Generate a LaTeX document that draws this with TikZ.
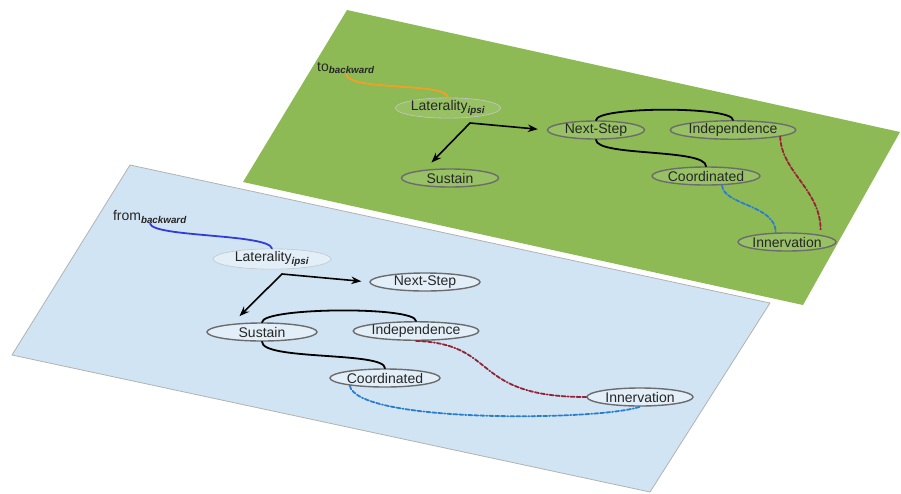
\documentclass[tikz,border=0pt]{standalone}
\usepackage{fontspec}
\setmainfont{Liberation Sans}
\usetikzlibrary{positioning,shapes.geometric,arrows.meta}
\definecolor{leafgreen}{RGB}{141,186,84}
\definecolor{paleblue}{RGB}{208,228,243}
\definecolor{linkred}{RGB}{150,35,55}
\definecolor{linkblue}{RGB}{45,125,205}
\definecolor{tracorange}{RGB}{240,160,40}
\definecolor{tracblue}{RGB}{50,60,220}
\tikzset{
  ovalstate/.style={ellipse, draw=gray!85!black, line width=1.4pt, inner sep=0pt,
    minimum height=18pt, text=black!85, font=\fontsize{14}{16}\selectfont},
  gstate/.style={ovalstate, fill=leafgreen!90!white, minimum width=97pt},
  bstate/.style={ovalstate, fill=paleblue!60!white, minimum width=110pt},
  faint/.style={draw=gray!45, line width=0.6pt},
  tag/.style={inner sep=0pt, text=black!85, font=\fontsize{14}{16}\selectfont},
  link/.style={line width=1.8pt, line cap=round},
  twoway/.style={line width=1.6pt, {Stealth[length=10pt,width=7.5pt]}-{Stealth[length=10pt,width=7.5pt]}},
  dashlink/.style={dash pattern=on 4pt off 2pt on 4pt off 2pt on 4pt off 2pt on 1pt off 2pt}
}
\begin{document}
\begin{tikzpicture}[x=1pt,y=-1pt]
\useasboundingbox (0,0) rectangle (901,493);
% the two planes
\fill[leafgreen] (347,10) -- (900,132) -- (803,305) -- (243,182) -- cycle;
\filldraw[fill=paleblue, draw=gray!60, line width=0.8pt] (130,165) -- (770,303) -- (650,492) -- (12,355) -- cycle;

% upper plane (green)
\node[tag] (gTo) at (346,68) {to\textsubscript{\textbf{\textit{backward}}}};
\node[gstate, faint] (gLat) at (448,108) {Laterality\textsubscript{\textbf{\textit{ipsi}}}};
\node[gstate] (gNext) at (596,130) {Next-Step};
\node[gstate] (gIndep) at (733,130) {Independence};
\node[gstate] (gSustain) at (450,178) {Sustain};
\node[gstate] (gCoord) at (706,176) {Coordinated};
\node[gstate] (gInnerv) at (787,242) {Innervation};
\coordinate (gFork) at (470,123);

\draw[link, tracorange] (gTo.south) .. controls +(3,18) and +(-2,-16) .. (gLat.north);
\draw[twoway, shorten <=10pt, shorten >=9pt] (gSustain.162) -- (gFork) -- (gNext.west);
\draw[link] (gNext.north) .. controls +(0,-14) and +(0,-14) .. (gIndep.north);
\draw[link] (gNext.south) .. controls +(0,17) and +(0,-18) .. (gCoord.north);
\draw[link, linkblue, dashlink] (gCoord.-30) .. controls +(1,20) and +(0,-28) .. (gInnerv.140);
\draw[link, linkred, dashlink, shorten >=5pt] (gIndep.-8) .. controls +(1,35) and +(0,-45) .. (gInnerv.12);

% lower plane (blue)
\node[tag] (bFrom) at (150,217) {from\textsubscript{\textbf{\textit{backward}}}};
\node[bstate, faint, minimum width=118pt] (bLat) at (272,259) {Laterality\textsubscript{\textbf{\textit{ipsi}}}};
\node[bstate] (bNext) at (425,282) {Next-Step};
\node[bstate] (bSustain) at (262,332) {Sustain};
\node[bstate, minimum width=108pt] (bIndep) at (416,331) {Independence};
\node[bstate] (bCoord) at (385,378) {Coordinated};
\node[bstate, minimum width=106pt] (bInnerv) at (640,397) {Innervation};
\coordinate (bFork) at (282,274);

\draw[link, tracblue] (bFrom.south) .. controls +(2,14) and +(-3,-15) .. (bLat.north);
\draw[twoway, shorten <=11pt, shorten >=8pt] (bSustain.165) -- (bFork) -- (bNext.west);
\draw[link] (bSustain.north) .. controls +(0,-15) and +(0,-15) .. (bIndep.north);
\draw[link] (bSustain.south) .. controls +(0,19) and +(0,-17) .. (bCoord.north);
\draw[link, linkred, dashlink] (bIndep.south) .. controls +(84,3) and +(-117,0) .. (bInnerv.west);
\draw[link, linkblue, dashlink] (bCoord.-168) .. controls +(7,38) and +(-40,14) .. (bInnerv.south);
\end{tikzpicture}
\end{document}
